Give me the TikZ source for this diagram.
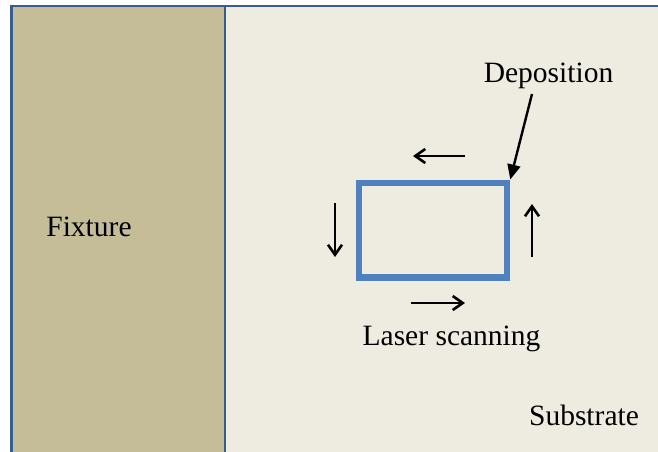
\documentclass[tikz,border=0pt]{standalone}
\usepackage{fontspec}
\setmainfont{Liberation Serif}
\usetikzlibrary{arrows.meta}
\definecolor{fixcol}{HTML}{C4BD97}
\definecolor{subcol}{HTML}{EEECE1}
\definecolor{framecol}{HTML}{385D8A}
\definecolor{pathcol}{HTML}{4F81BD}
\tikzset{
  lbl/.style={anchor=base, inner sep=0pt, font=\fontsize{29.5}{34}\selectfont, text=black},
  scanarrow/.style={draw=black, line width=2.6pt, -{Straight Barb[length=10pt,width=14pt,line width=2.6pt]}},
  deparrow/.style={draw=black, line width=2.4pt, -{Triangle[length=15pt,width=13pt]}},
  region/.style={draw=framecol, line width=2.6pt}
}
\begin{document}
\begin{tikzpicture}[x=1pt,y=-1pt]
\useasboundingbox (0,0) rectangle (658,451);
\fill[white] (0,0) rectangle (658,451);
\begin{scope}
\clip (0,0) rectangle (658,451);
\path[region, fill=subcol] (11.5,6) rectangle (700,500);
\path[region, fill=fixcol] (11.5,6) rectangle (225,500);
\end{scope}
\node[draw=pathcol, line width=6.5pt, minimum width=148pt, minimum height=94.5pt, inner sep=0pt] (scanpath) at (433,230) {};
\node[lbl] (fixture) at (89,236) {Fixture};
\node[lbl] (substrate) at (584,425) {Substrate};
\node[lbl] (deposition) at (548.5,82) {Deposition};
\node[lbl] (laser) at (451.5,345) {Laser scanning};
\coordinate (depstart) at (532,94);
\draw[deparrow] (depstart) -- (scanpath.north east);
\coordinate (t1) at (465,156);
\coordinate (t2) at (413,156);
\coordinate (l1) at (335,203);
\coordinate (l2) at (335,257);
\coordinate (b1) at (411,303);
\coordinate (b2) at (465,303);
\coordinate (r1) at (532,257);
\coordinate (r2) at (532,204);
\draw[scanarrow] (t1) -- (t2);
\draw[scanarrow] (l1) -- (l2);
\draw[scanarrow] (b1) -- (b2);
\draw[scanarrow] (r1) -- (r2);
\end{tikzpicture}
\end{document}
